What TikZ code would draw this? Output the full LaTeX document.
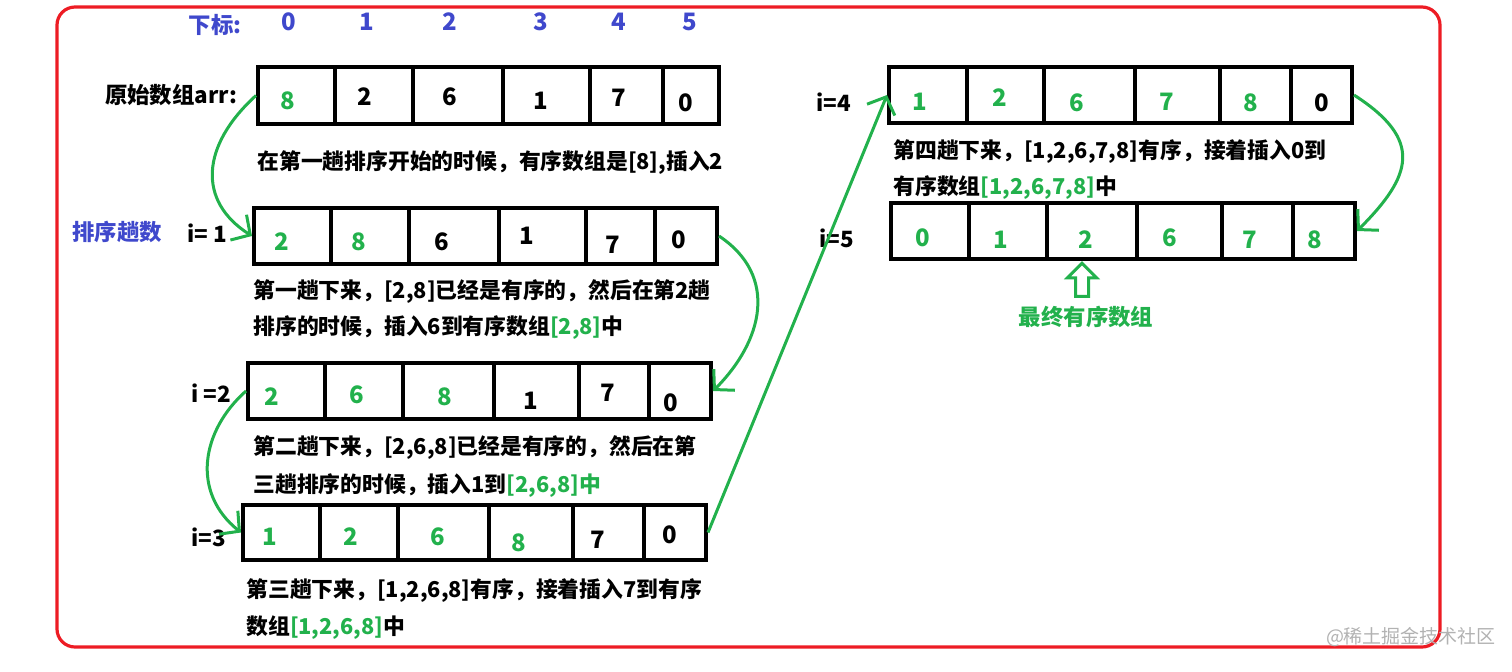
\documentclass[tikz,border=0pt]{standalone}
\usepackage{fontspec}
\setmainfont{Noto Sans CJK SC}
\usepackage{xcolor}
\usepackage{tikz}
\usetikzlibrary{arrows.meta, positioning, fit, shapes.arrows}
\definecolor{paintgreen}{RGB}{34, 177, 76}
\definecolor{paintblue}{RGB}{63, 72, 204}
\definecolor{paintred}{RGB}{237, 28, 36}

\begin{document}
\begin{tikzpicture}[
  x=0.5pt, y=-0.5pt,
  rowbox/.style={draw, line width=2pt, inner sep=0pt},
  divider/.style={line width=1.8pt},
  num/.style={font=\bfseries\fontsize{12}{14}\selectfont, inner sep=1pt},
  note/.style={font=\bfseries\fontsize{10.9}{13}\selectfont, anchor=west, inner sep=0pt},
  lbl/.style={font=\bfseries\fontsize{11.2}{13}\selectfont, inner sep=1pt},
  arrow/.style={-{Straight Barb[length=7pt, width=15pt]}, line width=1.5pt, draw=paintgreen}
]
\useasboundingbox (0,0) rectangle (1512,671);

% frame
\draw[paintred, line width=1.6pt, rounded corners=9pt] (57,7) rectangle (1440,647);

% index header
\node[lbl, text=paintblue] (idx) at (215,25) {下标:};
\foreach \x [count=\k from 0] in {289,367,450,541,619,690}
  \node[num, text=paintblue] (idx\k) at (\x,22) {\k};

% original array
\node[lbl] (arrlbl) at (171,95) {原始数组arr:};
\node[rowbox, fit={(258,67) (719,124)}] (row0) {};
\foreach \x in {335,413,503,590,663} \draw[divider] (\x,67) -- (\x,124);
\foreach \x/\y/\v/\c [count=\k] in {288/101/8/paintgreen, 365/97/2/black, 450/97/6/black,
    541/101/1/black, 619/98/7/black, 686/103/0/black}
  \node[num, text=\c] (r0c\k) at (\x,\y) {\v};
\node[note] (cap0) at (257,163) {在第一趟排序开始的时候，有序数组是[8],插入2};

% pass 1
\node[lbl, text=paintblue] (passlbl) at (117,232) {排序趟数};
\node[lbl] (i1) at (207,233) {i= 1};
\node[rowbox, fit={(254,208) (717,264)}] (row1) {};
\foreach \x in {331,409,499,586,655} \draw[divider] (\x,208) -- (\x,264);
\foreach \x/\y/\v/\c [count=\k] in {282/242/2/paintgreen, 359/242/8/paintgreen, 442/242/6/black,
    527/236/1/black, 613/245/7/black, 679/240/0/black}
  \node[num, text=\c] (r1c\k) at (\x,\y) {\v};
\node[note] (cap1a) at (253,292) {第一趟下来，[2,8]已经是有序的，然后在第2趟};
\node[note] (cap1b) at (253,328) {排序的时候，插入6到有序数组\textcolor{paintgreen}{[2,8]}中};

% pass 2
\node[lbl] (i2) at (211,393) {i =2};
\node[rowbox, fit={(248,363) (711,419)}] (row2) {};
\foreach \x in {325,403,494,579,649} \draw[divider] (\x,363) -- (\x,419);
\foreach \x/\y/\v/\c [count=\k] in {272/397/2/paintgreen, 357/395/6/paintgreen, 445/397/8/paintgreen,
    531/401/1/black, 608/393/7/black, 671/403/0/black}
  \node[num, text=\c] (r2c\k) at (\x,\y) {\v};
\node[note] (cap2a) at (253,448) {第二趟下来，[2,6,8]已经是有序的，然后在第};
\node[note] (cap2b) at (253,486) {三趟排序的时候，插入1到\textcolor{paintgreen}{[2,6,8]中}};

% pass 3
\node[lbl] (i3) at (209,537) {i=3};
\node[rowbox, fit={(243,505) (706,560)}] (row3) {};
\foreach \x in {320,398,489,573,644} \draw[divider] (\x,505) -- (\x,560);
\foreach \x/\y/\v/\c [count=\k] in {270/537/1/paintgreen, 351/537/2/paintgreen, 438/537/6/paintgreen,
    519/543/8/paintgreen, 598/540/7/black, 670/535/0/black}
  \node[num, text=\c] (r3c\k) at (\x,\y) {\v};
\node[note] (cap3a) at (246,591) {第三趟下来，[1,2,6,8]有序，接着插入7到有序};
\node[note] (cap3b) at (246,628) {数组\textcolor{paintgreen}{[1,2,6,8]}中};

% pass 4
\node[lbl] (i4) at (834,102) {i=4};
\node[rowbox, fit={(889,67) (1352,123)}] (row4) {};
\foreach \x in {967,1044,1135,1220,1291} \draw[divider] (\x,67) -- (\x,123);
\foreach \x/\y/\v/\c [count=\k] in {920/102/1/paintgreen, 1000/98/2/paintgreen, 1077/103/6/paintgreen,
    1167/102/7/paintgreen, 1251/103/8/paintgreen, 1322/103/0/black}
  \node[num, text=\c] (r4c\k) at (\x,\y) {\v};
\node[note] (cap4a) at (893,152) {第四趟下来，[1,2,6,7,8]有序，接着插入0到};
\node[note] (cap4b) at (893,188) {有序数组\textcolor{paintgreen}{[1,2,6,7,8]}中};

% pass 5
\node[lbl] (i5) at (837,238) {i=5};
\node[rowbox, fit={(891,203) (1355,259)}] (row5) {};
\foreach \x in {969,1047,1137,1222,1293} \draw[divider] (\x,203) -- (\x,259);
\foreach \x/\y/\v [count=\k] in {923/238/0, 1001/240/1, 1086/240/2, 1170/238/6, 1250/240/7, 1315/240/8}
  \node[num, text=paintgreen] (r5c\k) at (\x,\y) {\v};
\node[single arrow, draw=paintgreen, line width=1.5pt, rotate=90, inner sep=2.5pt,
  minimum height=16.5pt, single arrow head extend=4pt] (up) at (1082,283) {};
\node[lbl, text=paintgreen] (final) at (1086,317) {最终有序数组};

% passes
\draw[arrow] (row0.west) .. controls +(-55,50) and +(-55,-35) .. (row1.west);
\draw[arrow] (row1.east) .. controls +(60,40) and +(50,-50) .. (row2.east);
\draw[arrow] (row2.west) .. controls +(-45,40) and +(-50,-40) .. (row3.west);
\draw[arrow] (row3.east) -- (row4.west);
\draw[arrow] (row4.east) .. controls +(70,45) and +(55,-55) .. (row5.east);

\node[font=\fontsize{9.5}{11}\selectfont, text=black!30] (mark) at (1411,637) {@稀土掘金技术社区};
\end{tikzpicture}
\end{document}
